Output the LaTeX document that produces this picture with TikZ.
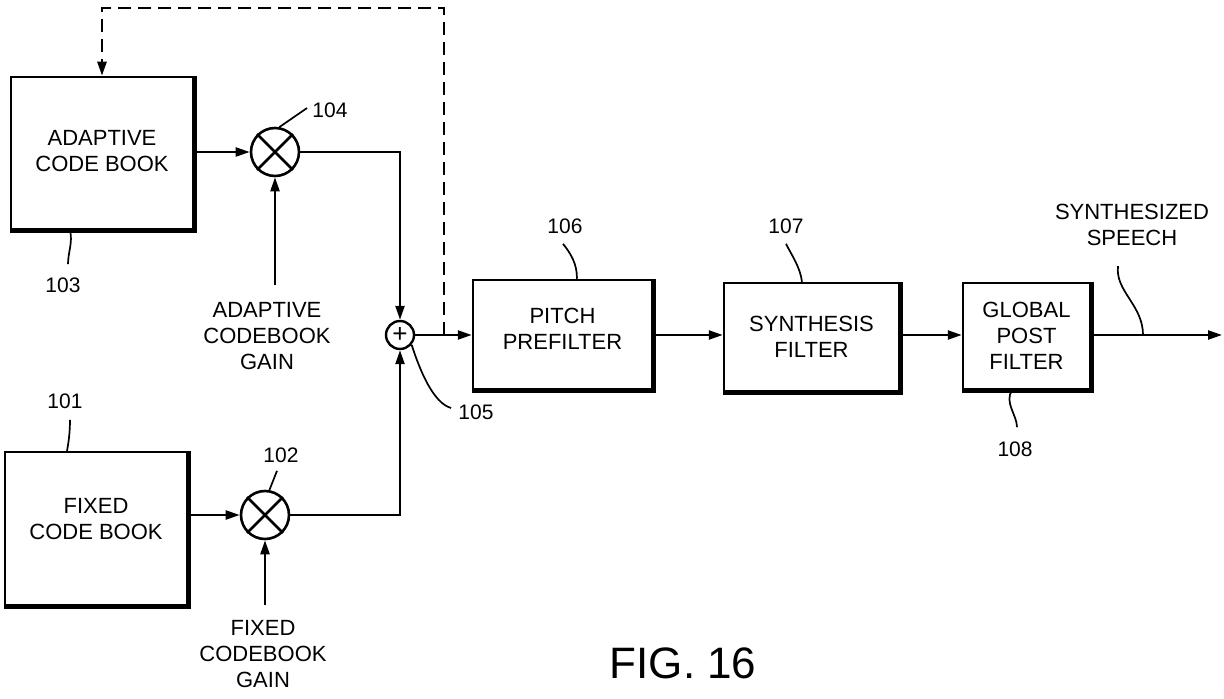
\documentclass[tikz,border=0pt]{standalone}
\usepackage{fontspec}
\setmainfont{Liberation Sans}
\usetikzlibrary{arrows.meta}
\begin{document}
\begin{tikzpicture}[x=0.5pt,y=-0.5pt,
  txt/.style={font=\fontsize{11}{13}\selectfont, align=center, inner sep=0pt},
  num/.style={font=\fontsize{10.5}{12}\selectfont, inner sep=0pt},
  box/.style={draw, line width=1.25pt, txt},
  shadowedge/.style={line width=2.5pt, line join=miter},
  mult/.style={draw, circle, line width=1.3pt, minimum size=24pt, inner sep=0pt},
  sumnode/.style={draw, circle, line width=1.2pt, minimum size=14pt, inner sep=0pt, font=\fontsize{13}{13}\selectfont},
  sig/.style={line width=1.15pt, -{Triangle[length=7pt,width=4.5pt]}},
  fb/.style={line width=1.25pt, dash pattern=on 6.5pt off 3.5pt, -{Triangle[length=7pt,width=4.5pt]}},
  lead/.style={line width=0.85pt},
]
\useasboundingbox (0,0) rectangle (1224,699);

% blocks
\node[box, minimum width=91pt, minimum height=76pt, text depth=2.5pt] (acb) at (102,153) {ADAPTIVE\\CODE BOOK};
\node[box, minimum width=91pt, minimum height=76.5pt, text depth=10pt] (fcb) at (96,528.5) {FIXED\\CODE BOOK};
\node[box, minimum width=89.5pt, minimum height=54.5pt, text depth=6pt] (pitch) at (562.5,334.5) {PITCH\\PREFILTER};
\node[box, minimum width=87.5pt, minimum height=54pt] (synth) at (811.5,337) {SYNTHESIS\\FILTER};
\node[box, minimum width=63.5pt, minimum height=53pt] (gpf) at (1026.5,336) {GLOBAL\\POST\\FILTER};
\foreach \n in {acb,fcb,pitch,synth,gpf}
  \draw[shadowedge] (\n.north east) -- (\n.south east) -- (\n.south west);

% multipliers and adder
\node[mult] (m104) at (275,152) {};
\node[mult] (m102) at (265,515) {};
\foreach \n in {m104,m102}{
  \draw[line width=1.3pt] (\n.45) -- (\n.225);
  \draw[line width=1.3pt] (\n.135) -- (\n.-45);
}
\node[sumnode] (s105) at (400,335) {+};

% signal flow
\draw[sig] (acb.east |- m104) -- (m104.west);
\draw[sig] (fcb.east |- m102) -- (m102.west);
\draw[sig] (m104.east) -| (s105.north);
\draw[sig] (m102.east) -| (s105.south);
\draw[sig] (s105.east) -- (pitch.west |- s105);
\draw[sig] (pitch.east |- s105) -- (synth.west |- s105);
\draw[sig] (synth.east |- s105) -- (gpf.west |- s105);
\coordinate (out) at (1222,335);
\draw[sig] (gpf.east |- s105) -- (out);

% feedback
\coordinate (j) at (444,335);
\coordinate (fbtop) at (444,8);
\draw[fb] (j) -- (fbtop) -| (acb.north);

% gains
\coordinate (ga) at (275,285);
\draw[sig] (ga) -- (m104.south);
\node[txt] (agn) at (267,336) {ADAPTIVE\\CODEBOOK\\GAIN};
\coordinate (gf) at (265,605);
\draw[sig] (gf) -- (m102.south);
\node[txt] (fgn) at (263,654) {FIXED\\CODEBOOK\\GAIN};

% reference numerals
\node[num] (t104) at (330,110) {104};
\node[num] (t103) at (63,285) {103};
\node[num] (t101) at (65,401) {101};
\node[num] (t102) at (281,455) {102};
\node[num] (t105) at (476,412) {105};
\node[num] (t106) at (565,226) {106};
\node[num] (t107) at (786,226) {107};
\node[num] (t108) at (1015,449) {108};
\node[txt] (ss) at (1132,225) {SYNTHESIZED\\SPEECH};

% leader lines
\draw[lead] (m104.80) -- ([shift={(-5,-2)}]t104.west);
\draw[lead] ([shift={(-32,0)}]acb.south) .. controls +(3,12) and +(0,-12) .. ([shift={(5,-13)}]t103.north);
\draw[lead] ([shift={(5,11)}]t101.south) .. controls +(0,10) and +(2,-10) .. ([shift={(-29,0)}]fcb.north);
\draw[lead] ([shift={(-4,8)}]t102.south) -- (m102.80);
\draw[lead] (s105.-40) .. controls +(8,25) and +(-18,-5) .. ([shift={(-7,-4)}]t105.west);
\draw[lead] ([shift={(-2,10)}]t106.south) .. controls +(8,10) and +(0,-15) .. ([shift={(14.5,0)}]pitch.north);
\draw[lead] ([shift={(0,10)}]t107.south) .. controls +(6,12) and +(-2,-15) .. ([shift={(-9.5,0)}]synth.north);
\draw[lead] ([shift={(-14.5,0)}]gpf.south) .. controls +(-8,12) and +(0,-12) .. ([shift={(2,-14)}]t108.north);
\coordinate (tap) at (1143,335);
\draw[lead] ([shift={(-14,20)}]ss.south) .. controls +(-3,25) and +(0,-30) .. (tap);

% caption
\node[font=\fontsize{22}{26}\selectfont, inner sep=0pt] (fig) at (683,663) {FIG. 16};
\end{tikzpicture}
\end{document}
